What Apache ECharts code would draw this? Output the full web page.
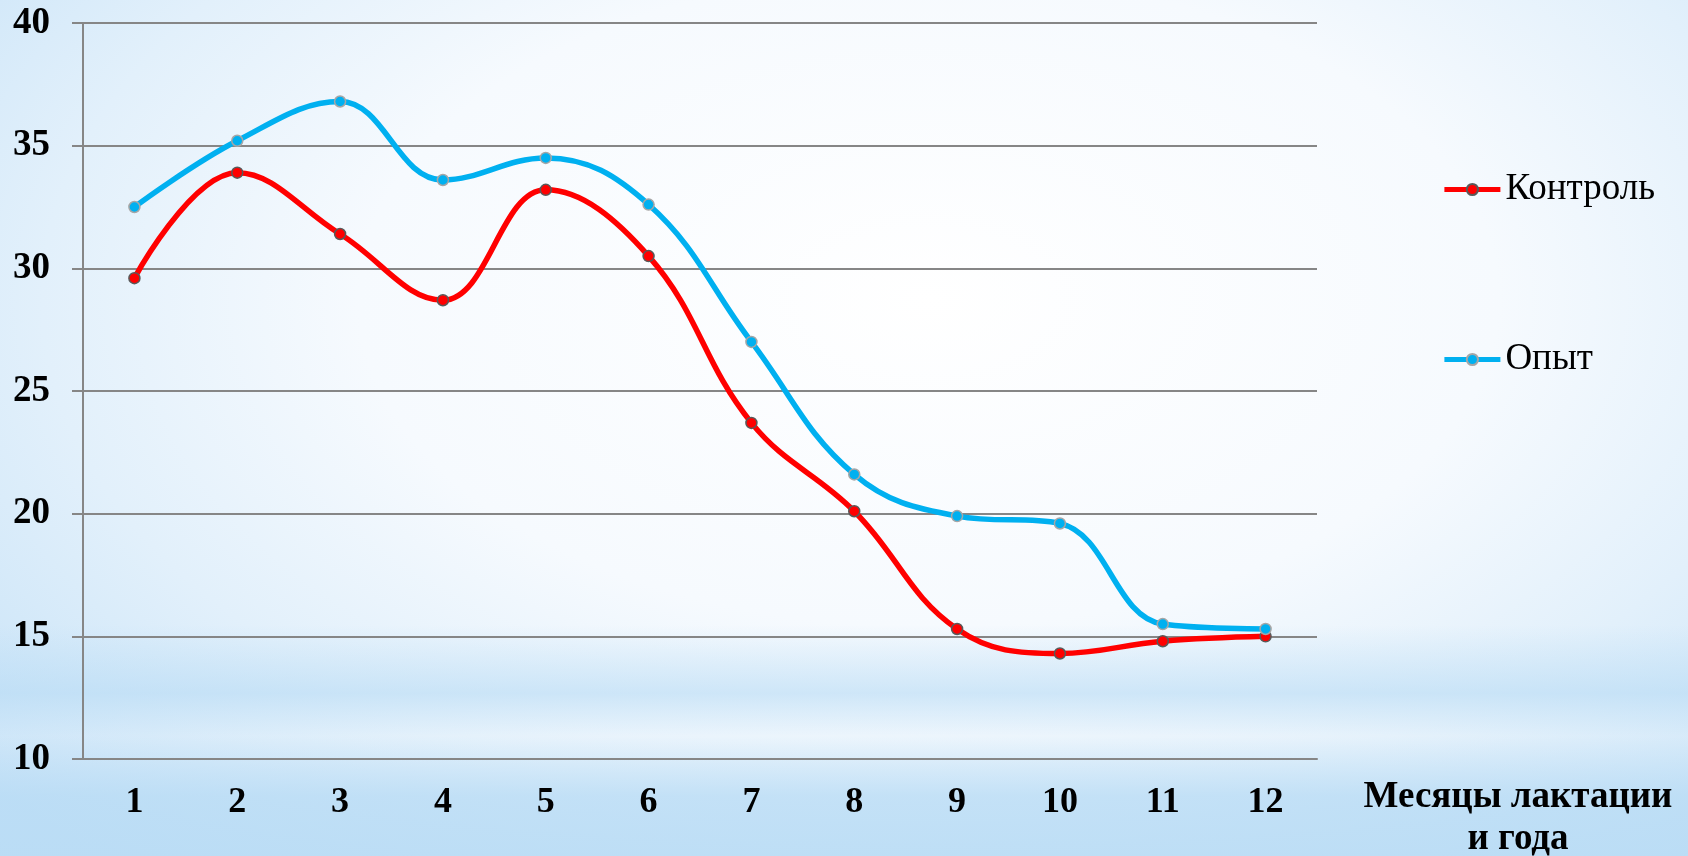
<!DOCTYPE html>
<html>
<head>
<meta charset="utf-8">
<script src="https://cdn.jsdelivr.net/npm/echarts@6/dist/echarts.min.js"></script>
<style>
  html, body { margin: 0; padding: 0; }
  body {
    width: 1688px;
    height: 856px;
    background:
      linear-gradient(180deg, rgba(255,255,255,0) 0%, rgba(255,255,255,0) 73%, rgba(185,220,245,0.6) 81%, rgba(255,255,255,0.1) 86%, rgba(185,220,245,0.75) 93%, rgba(185,220,245,0.85) 100%),
      radial-gradient(ellipse 75% 85% at 55% 35%, #ffffff 0%, #f6fafe 45%, #e2f0fb 70%, #c4e1f7 100%);
  }
  #chart { width: 1688px; height: 856px; }
</style>
</head>
<body>
<div id="chart"></div>
<script>
  const months = ['1', '2', '3', '4', '5', '6', '7', '8', '9', '10', '11', '12'];
  const control = [29.6, 33.9, 31.4, 28.7, 33.2, 30.5, 23.7, 20.1, 15.3, 14.3, 14.8, 15.0];
  const experiment = [32.5, 35.2, 36.8, 33.6, 34.5, 32.6, 27.0, 21.6, 19.9, 19.6, 15.5, 15.3];

  const serif = '"Liberation Serif", "Times New Roman", serif';
  const chart = echarts.init(document.getElementById('chart'));

  chart.setOption({
    backgroundColor: 'transparent',
    animation: false,
    grid: {
      left: 83,
      right: 371,
      top: 23,
      bottom: 97,
      outerBoundsMode: 'none'
    },
    legend: {
      orient: 'vertical',
      right: 28,
      top: 166,
      itemWidth: 56,
      itemHeight: 14,
      itemGap: 133,
      lineStyle: { width: 5 },
      textStyle: { fontFamily: serif, fontSize: 37, color: '#000' },
      data: ['Контроль', 'Опыт']
    },
    xAxis: {
      type: 'category',
      data: months,
      name: 'Месяцы лактации\nи года',
      nameLocation: 'end',
      nameGap: 201,
      nameTextStyle: {
        fontFamily: serif,
        fontWeight: 'bold',
        fontSize: 37,
        color: '#000',
        align: 'center',
        verticalAlign: 'top',
        lineHeight: 42,
        padding: [17, 0, 0, 0]
      },
      axisLine: { lineStyle: { color: '#868686', width: 2 } },
      axisTick: { length: 10, lineStyle: { color: '#868686', width: 2 } },
      axisLabel: {
        fontFamily: serif,
        fontWeight: 'bold',
        fontSize: 36,
        color: '#000',
        margin: 26
      }
    },
    yAxis: {
      type: 'value',
      min: 10,
      max: 40,
      interval: 5,
      axisLine: { show: true, lineStyle: { color: '#868686', width: 2 } },
      axisTick: { show: true, length: 11, lineStyle: { color: '#868686', width: 2 } },
      splitLine: { lineStyle: { color: '#868686', width: 2 } },
      axisLabel: {
        fontFamily: serif,
        fontWeight: 'bold',
        fontSize: 37,
        color: '#000',
        margin: 33
      }
    },
    series: [
      {
        name: 'Контроль',
        type: 'line',
        data: control,
        smooth: 0.4,
        symbol: 'circle',
        symbolSize: 11,
        lineStyle: { color: '#ff0000', width: 5.5 },
        itemStyle: { color: '#ff0000', borderColor: '#595959', borderWidth: 1.5 }
      },
      {
        name: 'Опыт',
        type: 'line',
        data: experiment,
        smooth: 0.4,
        symbol: 'circle',
        symbolSize: 11,
        lineStyle: { color: '#00b0f0', width: 5.5 },
        itemStyle: { color: '#00b0f0', borderColor: '#a6a6a6', borderWidth: 1.5 }
      }
    ]
  });
</script>
</body>
</html>
